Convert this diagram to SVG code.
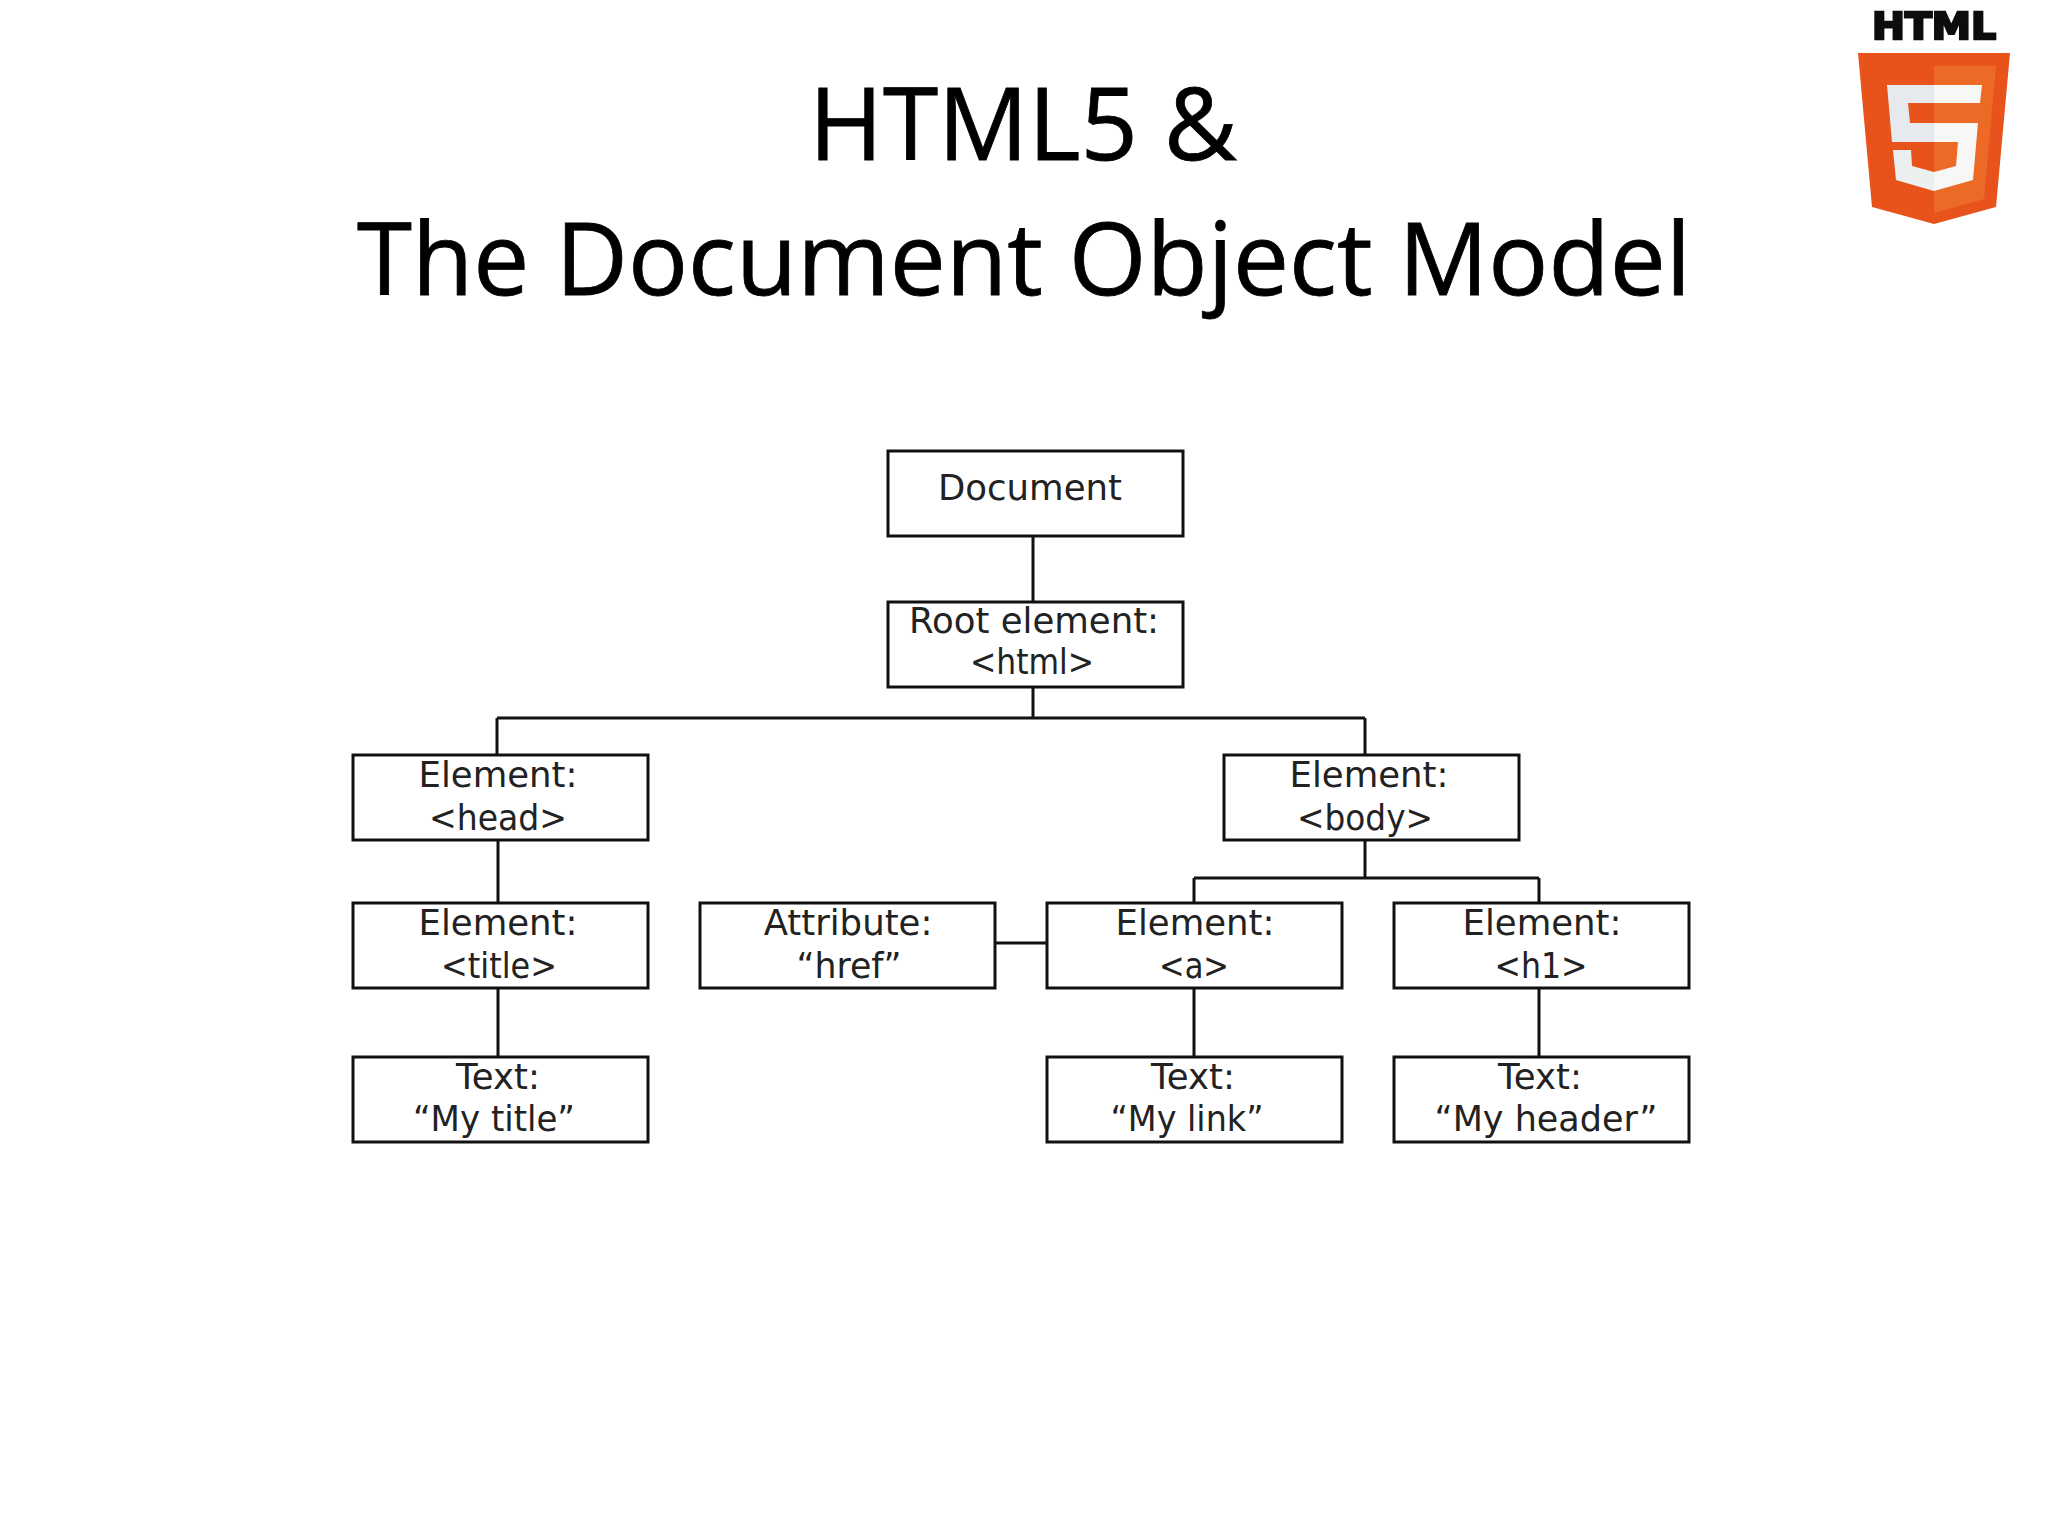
<svg xmlns="http://www.w3.org/2000/svg" width="2048" height="1536" viewBox="0 0 2048 1536">
<style>
.t{font-family:"Open Sans","Noto Sans",sans-serif;font-size:100px;fill:#000;text-anchor:middle}
.b{fill:#fff;stroke:#111;stroke-width:3}
.l{font-family:"DejaVu Sans","Liberation Sans",sans-serif;font-size:35.5px;fill:#222;text-anchor:middle}
.c{fill:none;stroke:#111;stroke-width:3}
</style>
<defs><filter id="soft" x="-5%" y="-5%" width="110%" height="110%"><feGaussianBlur stdDeviation="0.7"/></filter></defs>
<rect width="2048" height="1536" fill="#fff"/>
<g id="title">
<text class="t" x="1023" y="160" textLength="428" lengthAdjust="spacingAndGlyphs" stroke="#000" stroke-width="0.8">HTML5 &amp;</text>
<text class="t" x="1024" y="295" textLength="1334" lengthAdjust="spacingAndGlyphs" stroke="#000" stroke-width="0.8">The Document Object Model</text>
</g>
<g id="logo" filter="url(#soft)">
<text x="1934" y="39" font-family="DejaVu Sans,sans-serif" font-weight="700" font-size="37" text-anchor="middle" textLength="124" lengthAdjust="spacingAndGlyphs" stroke="#111" stroke-width="2.5" fill="#111">HTML</text>
<polygon points="1858,53 2010,53 1996,207 1934,224 1872,207" fill="#e8531f"/>
<polygon points="1934,66 1996,66 1984,199 1934,213" fill="#ec6a28"/>
<polygon points="1887,85 1934,85 1934,103 1908,103 1910,123 1934,123 1934,142 1892,142" fill="#e6eaee"/>
<polygon points="1893,150 1911,150 1912,166 1934,172 1934,191 1896,180" fill="#eceff0"/>
<polygon points="1934,85 1982,85 1980,103 1934,103" fill="#f7f7f5"/>
<polygon points="1934,123 1978,123 1973,180 1934,191 1934,172 1956,166 1958,142 1934,142" fill="#f7f7f5"/>
</g>
<g id="connectors">
<path class="c" d="M1033 537V601M1033 687V718M497 718H1365M497 718V755M1365 718V755M1365 841V878M1194 878H1539M1194 878V902M1539 878V902M498 841V902M498 988V1057M1194 988V1057M1539 988V1057M996 943H1046"/>
</g>
<g id="document"><rect class="b" x="888" y="451" width="295" height="85"/><text class="l" x="1030" y="500">Document</text></g>
<g id="root"><rect class="b" x="888" y="602" width="295" height="85"/><text class="l" x="1034" y="633">Root element:</text><text class="l" x="1032" y="674" textLength="124" lengthAdjust="spacingAndGlyphs">&lt;html&gt;</text></g>
<g id="head"><rect class="b" x="353" y="755" width="295" height="85"/><text class="l" x="498" y="787">Element:</text><text class="l" x="498" y="830" textLength="138" lengthAdjust="spacingAndGlyphs">&lt;head&gt;</text></g>
<g id="body"><rect class="b" x="1224" y="755" width="295" height="85"/><text class="l" x="1369" y="787">Element:</text><text class="l" x="1365" y="830" textLength="136" lengthAdjust="spacingAndGlyphs">&lt;body&gt;</text></g>
<g id="title-el"><rect class="b" x="353" y="903" width="295" height="85"/><text class="l" x="498" y="935">Element:</text><text class="l" x="499" y="978" textLength="116" lengthAdjust="spacingAndGlyphs">&lt;title&gt;</text></g>
<g id="attribute"><rect class="b" x="700" y="903" width="295" height="85"/><text class="l" x="848" y="935">Attribute:</text><text class="l" x="849" y="978" textLength="105" lengthAdjust="spacingAndGlyphs">“href”</text></g>
<g id="a"><rect class="b" x="1047" y="903" width="295" height="85"/><text class="l" x="1195" y="935">Element:</text><text class="l" x="1194" y="978" textLength="70" lengthAdjust="spacingAndGlyphs">&lt;a&gt;</text></g>
<g id="h1"><rect class="b" x="1394" y="903" width="295" height="85"/><text class="l" x="1542" y="935">Element:</text><text class="l" x="1541" y="978" textLength="93" lengthAdjust="spacingAndGlyphs">&lt;h1&gt;</text></g>
<g id="text-title"><rect class="b" x="353" y="1057" width="295" height="85"/><text class="l" x="498" y="1089">Text:</text><text class="l" x="494" y="1131" textLength="162" lengthAdjust="spacingAndGlyphs">“My title”</text></g>
<g id="text-link"><rect class="b" x="1047" y="1057" width="295" height="85"/><text class="l" x="1193" y="1089">Text:</text><text class="l" x="1187" y="1131" textLength="153" lengthAdjust="spacingAndGlyphs">“My link”</text></g>
<g id="text-header"><rect class="b" x="1394" y="1057" width="295" height="85"/><text class="l" x="1540" y="1089">Text:</text><text class="l" x="1546" y="1131" textLength="223" lengthAdjust="spacingAndGlyphs">“My header”</text></g>
</svg>
